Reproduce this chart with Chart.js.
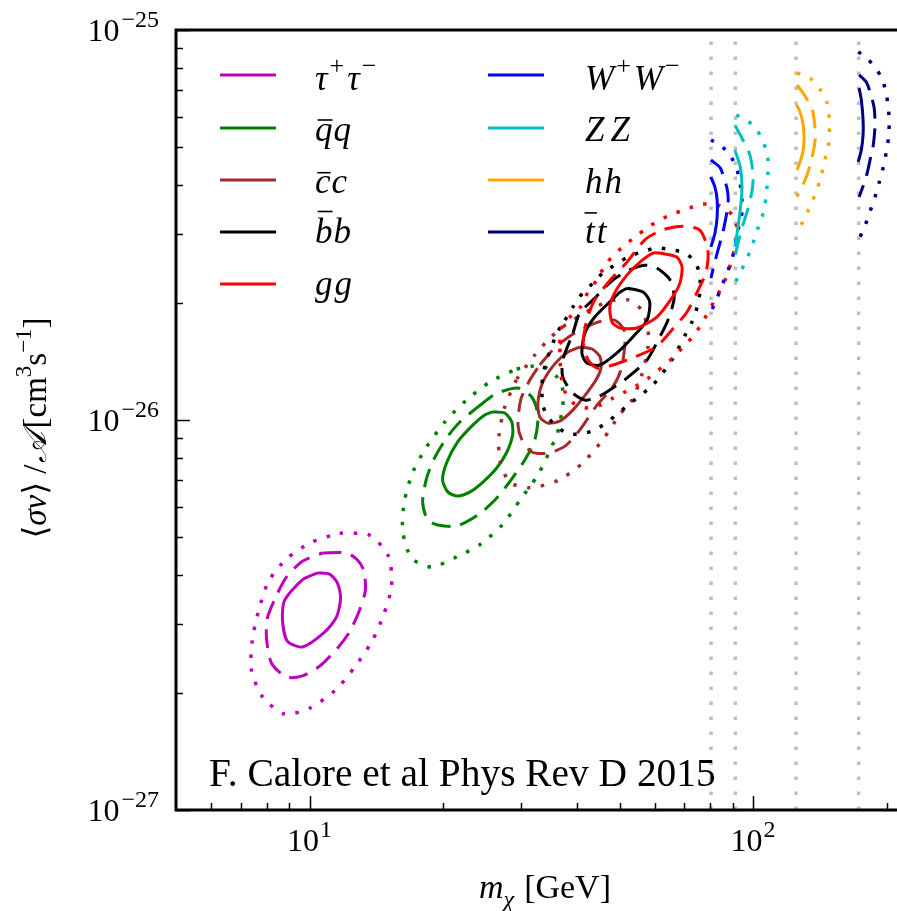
<!DOCTYPE html>
<html>
<head>
<meta charset="utf-8">
<script src="https://cdn.jsdelivr.net/npm/chart.js@4.4.1/dist/chart.umd.min.js"></script>
<style>
  html, body { margin: 0; padding: 0; background: #fff; }
  #chart { display: block; }
</style>
</head>
<body>
<canvas id="chart" width="897" height="911"></canvas>
<script>
// contour vertices: [log10(m_chi / GeV), log10(<sigma v>/A / cm^3 s^-1)]
const tauSolid = [[1.018,-26.392],[1.045,-26.395],[1.063,-26.418],[1.070,-26.456],[1.061,-26.505],[1.034,-26.544],[0.984,-26.582],[0.950,-26.567],[0.939,-26.513],[0.944,-26.462],[0.984,-26.410]];
const tauDashed = [[1.029,-26.341],[1.084,-26.341],[1.108,-26.359],[1.122,-26.385],[1.126,-26.436],[1.113,-26.487],[1.090,-26.544],[1.063,-26.585],[1.023,-26.631],[0.984,-26.656],[0.948,-26.659],[0.914,-26.623],[0.903,-26.559],[0.905,-26.508],[0.926,-26.449],[0.948,-26.403],[0.984,-26.362]];
const tauDotted = [[1.068,-26.290],[1.135,-26.295],[1.178,-26.349],[1.185,-26.426],[1.167,-26.500],[1.140,-26.569],[1.102,-26.633],[1.059,-26.692],[1.002,-26.738],[0.944,-26.754],[0.894,-26.710],[0.869,-26.641],[0.871,-26.564],[0.885,-26.490],[0.907,-26.415],[0.948,-26.356],[1.005,-26.313]];

const qqSolid = [[1.413,-25.979],[1.440,-25.982],[1.456,-26.005],[1.458,-26.038],[1.445,-26.082],[1.422,-26.123],[1.391,-26.159],[1.361,-26.185],[1.334,-26.195],[1.312,-26.185],[1.300,-26.154],[1.309,-26.110],[1.334,-26.056],[1.368,-26.013],[1.395,-25.987]];
const qqDashed = [[1.379,-25.967],[1.420,-25.933],[1.470,-25.918],[1.501,-25.941],[1.515,-25.987],[1.508,-26.051],[1.485,-26.103],[1.451,-26.159],[1.418,-26.205],[1.379,-26.244],[1.332,-26.272],[1.289,-26.269],[1.266,-26.256],[1.255,-26.210],[1.264,-26.149],[1.282,-26.097],[1.309,-26.046],[1.339,-26.005]];
const qqDotted = [[1.467,-25.869],[1.501,-25.862],[1.530,-25.864],[1.558,-25.890],[1.571,-25.923],[1.571,-25.964],[1.558,-26.038],[1.544,-26.072],[1.530,-26.108],[1.512,-26.146],[1.476,-26.203],[1.436,-26.267],[1.386,-26.318],[1.332,-26.351],[1.275,-26.377],[1.230,-26.354],[1.210,-26.285],[1.214,-26.208],[1.233,-26.133],[1.264,-26.069],[1.305,-26.005],[1.352,-25.951],[1.406,-25.903]];

const ccSolid = [[1.609,-25.813],[1.637,-25.818],[1.655,-25.838],[1.657,-25.867],[1.646,-25.897],[1.625,-25.931],[1.594,-25.974],[1.564,-26.003],[1.537,-26.008],[1.519,-25.992],[1.515,-25.954],[1.526,-25.903],[1.553,-25.856],[1.582,-25.826]];
const ccDashed = [[1.519,-25.859],[1.553,-25.815],[1.598,-25.777],[1.650,-25.749],[1.688,-25.744],[1.709,-25.769],[1.711,-25.808],[1.702,-25.872],[1.682,-25.918],[1.648,-25.962],[1.609,-26.026],[1.576,-26.067],[1.537,-26.085],[1.501,-26.082],[1.479,-26.051],[1.470,-26.013],[1.476,-25.949],[1.497,-25.897]];
const ccDotted = [[1.467,-25.895],[1.508,-25.833],[1.542,-25.790],[1.580,-25.754],[1.632,-25.718],[1.677,-25.695],[1.718,-25.692],[1.749,-25.718],[1.763,-25.769],[1.763,-25.813],[1.749,-25.885],[1.727,-25.949],[1.700,-25.985],[1.661,-26.051],[1.616,-26.110],[1.562,-26.154],[1.497,-26.174],[1.451,-26.159],[1.429,-26.103],[1.427,-26.041],[1.440,-25.967]];

const bbSolid = [[1.716,-25.662],[1.752,-25.672],[1.767,-25.697],[1.761,-25.744],[1.729,-25.787],[1.693,-25.828],[1.655,-25.859],[1.625,-25.854],[1.614,-25.828],[1.621,-25.777],[1.643,-25.736],[1.677,-25.697],[1.700,-25.672]];
const bbDashed = [[1.594,-25.777],[1.609,-25.726],[1.639,-25.692],[1.684,-25.641],[1.722,-25.615],[1.756,-25.603],[1.783,-25.610],[1.813,-25.641],[1.822,-25.687],[1.808,-25.744],[1.786,-25.795],[1.761,-25.846],[1.716,-25.892],[1.677,-25.923],[1.650,-25.941],[1.621,-25.949],[1.594,-25.931],[1.571,-25.890],[1.571,-25.846]];
const bbDotted = [[1.576,-25.744],[1.594,-25.710],[1.616,-25.674],[1.639,-25.649],[1.661,-25.623],[1.688,-25.603],[1.718,-25.582],[1.749,-25.569],[1.783,-25.559],[1.817,-25.564],[1.847,-25.572],[1.869,-25.595],[1.880,-25.628],[1.880,-25.672],[1.874,-25.710],[1.862,-25.749],[1.847,-25.782],[1.817,-25.846],[1.774,-25.910],[1.718,-25.962],[1.677,-26.000],[1.643,-26.026],[1.609,-26.036],[1.578,-26.033],[1.540,-25.997],[1.526,-25.962],[1.524,-25.923],[1.526,-25.885],[1.535,-25.846],[1.558,-25.777]];

const ggSolid = [[1.790,-25.572],[1.828,-25.582],[1.840,-25.608],[1.835,-25.649],[1.817,-25.687],[1.783,-25.736],[1.738,-25.764],[1.700,-25.764],[1.682,-25.749],[1.677,-25.710],[1.688,-25.674],[1.716,-25.628],[1.745,-25.595],[1.774,-25.572]];
const ggDashed = [[1.616,-25.800],[1.625,-25.744],[1.643,-25.692],[1.682,-25.636],[1.716,-25.595],[1.756,-25.538],[1.795,-25.513],[1.842,-25.503],[1.880,-25.513],[1.898,-25.564],[1.894,-25.621],[1.874,-25.672],[1.851,-25.723],[1.817,-25.769],[1.781,-25.813],[1.727,-25.841],[1.684,-25.859],[1.648,-25.867],[1.628,-25.846]];
const ggDotted = [[1.564,-25.803],[1.569,-25.762],[1.587,-25.736],[1.609,-25.713],[1.628,-25.672],[1.648,-25.641],[1.670,-25.597],[1.711,-25.551],[1.738,-25.528],[1.763,-25.505],[1.808,-25.477],[1.858,-25.456],[1.887,-25.446],[1.926,-25.451],[1.955,-25.477],[1.964,-25.513],[1.955,-25.577],[1.937,-25.641],[1.914,-25.692],[1.885,-25.751],[1.865,-25.785],[1.842,-25.813],[1.819,-25.841],[1.795,-25.864],[1.767,-25.890],[1.740,-25.910],[1.711,-25.928],[1.684,-25.944],[1.655,-25.962],[1.621,-25.969],[1.594,-25.956],[1.576,-25.928],[1.567,-25.885]];

const wwSolid = [[1.905,-25.377],[1.914,-25.403],[1.919,-25.436],[1.919,-25.479],[1.914,-25.521],[1.905,-25.556]];
const wwDashed = [[1.905,-25.333],[1.926,-25.354],[1.941,-25.405],[1.944,-25.436],[1.941,-25.467],[1.932,-25.518],[1.921,-25.564],[1.912,-25.603],[1.905,-25.636]];
const wwDotted = [[1.905,-25.282],[1.926,-25.295],[1.948,-25.321],[1.964,-25.359],[1.973,-25.410],[1.975,-25.467],[1.966,-25.513],[1.955,-25.577],[1.944,-25.615],[1.932,-25.649],[1.919,-25.687],[1.905,-25.723]];

const zzSolid = [[1.959,-25.308],[1.971,-25.351],[1.975,-25.403],[1.971,-25.462],[1.964,-25.521],[1.959,-25.556]];
const zzDashed = [[1.959,-25.244],[1.977,-25.282],[1.993,-25.321],[2.000,-25.372],[1.998,-25.410],[1.989,-25.456],[1.975,-25.508],[1.964,-25.556],[1.959,-25.585]];
const zzDotted = [[1.962,-25.218],[1.977,-25.226],[2.005,-25.249],[2.020,-25.282],[2.032,-25.315],[2.034,-25.354],[2.032,-25.392],[2.029,-25.431],[2.023,-25.469],[2.011,-25.508],[2.000,-25.546],[1.989,-25.579],[1.975,-25.613],[1.959,-25.649]];

const hhSolid = [[2.097,-25.192],[2.102,-25.200],[2.111,-25.231],[2.115,-25.274],[2.113,-25.308],[2.106,-25.338],[2.099,-25.359]];
const hhDashed = [[2.099,-25.141],[2.113,-25.162],[2.129,-25.192],[2.135,-25.210],[2.140,-25.256],[2.140,-25.282],[2.133,-25.326],[2.124,-25.364],[2.117,-25.385],[2.099,-25.428]];
const hhDotted = [[2.099,-25.110],[2.131,-25.126],[2.153,-25.156],[2.167,-25.187],[2.172,-25.228],[2.172,-25.267],[2.169,-25.303],[2.160,-25.341],[2.153,-25.377],[2.142,-25.415],[2.129,-25.451],[2.115,-25.485],[2.099,-25.521]];

const ttSolid = [[2.239,-25.149],[2.244,-25.179],[2.248,-25.231],[2.248,-25.269],[2.244,-25.308],[2.237,-25.338]];
const ttDashed = [[2.239,-25.115],[2.255,-25.133],[2.266,-25.167],[2.273,-25.200],[2.275,-25.244],[2.271,-25.295],[2.266,-25.321],[2.255,-25.377],[2.239,-25.428]];
const ttDotted = [[2.237,-25.056],[2.251,-25.067],[2.275,-25.095],[2.291,-25.126],[2.300,-25.162],[2.305,-25.200],[2.307,-25.238],[2.305,-25.279],[2.300,-25.315],[2.293,-25.354],[2.284,-25.392],[2.275,-25.428],[2.264,-25.464],[2.253,-25.500],[2.239,-25.536]];

// thresholds m_W, m_Z, m_h, m_t (GeV)
const thresholdMasses = [80.4, 91.2, 125, 173];

const xTicks = [6, 7, 8, 9, 10, 20, 30, 40, 50, 60, 70, 80, 90, 100, 200];
const xMajor = [10, 100];
const xLabels = ['1', '2'];
const yTicks = [1e-27, 2e-27, 3e-27, 4e-27, 5e-27, 6e-27, 7e-27, 8e-27, 9e-27,
                1e-26, 2e-26, 3e-26, 4e-26, 5e-26, 6e-26, 7e-26, 8e-26, 9e-26, 1e-25];
const yMajor = [1e-27, 1e-26, 1e-25];
const yLabels = ['−27', '−26', '−25'];
const citation = 'F. Calore et al Phys Rev D 2015';

const SERIF = '"Liberation Serif", "DejaVu Serif", serif';

const channels = [
  {color: '#BF00BF', levels: [tauSolid, tauDashed, tauDotted], closed: true,
   label: [{t: 'τ', it: 1, gap: 2}, {t: '+', sup: 1, gap: 3}, {t: 'τ', it: 1, gap: 2}, {t: '−', sup: 1}]},
  {color: '#008000', levels: [qqSolid, qqDashed, qqDotted], closed: true,
   label: [{t: 'q', it: 1, bar: 0.6, gap: 1}, {t: 'q', it: 1}]},
  {color: '#A52A2A', levels: [ccSolid, ccDashed, ccDotted], closed: true,
   label: [{t: 'c', it: 1, bar: 0.58, gap: 1}, {t: 'c', it: 1}]},
  {color: '#000000', levels: [bbSolid, bbDashed, bbDotted], closed: true,
   label: [{t: 'b', it: 1, bar: 0.9, gap: 1}, {t: 'b', it: 1}]},
  {color: '#FF0000', levels: [ggSolid, ggDashed, ggDotted], closed: true,
   label: [{t: 'g', it: 1, gap: 2}, {t: 'g', it: 1}]},
  {color: '#0000FF', levels: [wwSolid, wwDashed, wwDotted], closed: false,
   label: [{t: 'W', it: 1, gap: 2}, {t: '+', sup: 1, gap: 3}, {t: 'W', it: 1, gap: 2}, {t: '−', sup: 1}]},
  {color: '#00BFBF', levels: [zzSolid, zzDashed, zzDotted], closed: false,
   label: [{t: 'Z', it: 1, gap: 6}, {t: 'Z', it: 1}]},
  {color: '#FFA500', levels: [hhSolid, hhDashed, hhDotted], closed: false,
   label: [{t: 'h', it: 1, gap: 2}, {t: 'h', it: 1}]},
  {color: '#000080', levels: [ttSolid, ttDashed, ttDotted], closed: false,
   label: [{t: 't', it: 1, bar: 0.86, barW: 1.5, gap: 2}, {t: 't', it: 1}]}
];
const dashes = [[], [19, 10], [3.5, 10.5]];
const widths = [3, 3, 3.5];

function toPoints(arr, closed) {
  const pts = arr.map(([lm, ls]) => ({x: Math.pow(10, lm), y: Math.pow(10, ls)}));
  if (closed) pts.push(pts[0]);
  return pts;
}

let datasets = [];
for (let m of thresholdMasses) {
  datasets.push({
    data: [{x: m, y: 1e-27}, {x: m, y: 1e-25}],
    borderColor: '#BEBEBE', borderWidth: 3.5, borderDash: [3.5, 11.5],
    pointRadius: 0, showLine: true, order: 1000
  });
}
channels.forEach((ch, i) => {
  ch.levels.forEach((lev, j) => {
    datasets.push({
      data: toPoints(lev, ch.closed),
      borderColor: ch.color, borderWidth: widths[j], borderDash: dashes[j],
      borderCapStyle: 'butt', pointRadius: 0, showLine: true, tension: 0.25,
      order: -(i * 3 + j)
    });
  });
});

let supScale = 0.7;
function fontFor(p, size) {
  let s = (p.sup || p.sub) ? Math.round(size * supScale) : size;
  return (p.it ? 'italic ' : '') + s + 'px ' + SERIF;
}
function partWidth(ctx, p, size) {
  ctx.font = fontFor(p, size);
  return ctx.measureText(p.t).width;
}
function richWidth(ctx, parts, size) {
  return parts.reduce((w, p) => w + partWidth(ctx, p, size) + (p.gap || 0), 0);
}
function drawRich(ctx, parts, x, y, size, align) {
  let w = richWidth(ctx, parts, size);
  let cx = align === 'center' ? x - w / 2 : align === 'right' ? x - w : x;
  ctx.textAlign = 'left';
  ctx.textBaseline = 'alphabetic';
  for (let p of parts) {
    let tw = partWidth(ctx, p, size);
    let dy = p.sup ? -size * 0.45 : p.sub ? size * 0.25 : 0;
    ctx.fillText(p.t, cx, y + dy);
    if (p.bar) {
      let by = y - size * p.bar;
      let bw = (p.barW || 1) * tw;
      ctx.lineWidth = 1.6;
      ctx.beginPath();
      ctx.moveTo(cx + tw * 0.55 - bw * 0.4, by);
      ctx.lineTo(cx + tw * 0.55 + bw * 0.45, by);
      ctx.stroke();
    }
    cx += tw + (p.gap || 0);
  }
  return w;
}

const decor = {
  id: 'decor',
  afterDraw(chart) {
    const ctx = chart.ctx;
    const {left, right, top, bottom} = chart.chartArea;
    const xs = chart.scales.x, ys = chart.scales.y;
    ctx.save();
    ctx.fillStyle = '#000';
    ctx.strokeStyle = '#000';

    // ticks (inward)
    ctx.lineWidth = 1.5;
    for (let v of xTicks) {
      let px = Math.round(xs.getPixelForValue(v)) + 0.5;
      let len = xMajor.includes(v) ? 14 : 7;
      ctx.beginPath(); ctx.moveTo(px, bottom); ctx.lineTo(px, bottom - len); ctx.stroke();
    }
    for (let v of yTicks) {
      let py = Math.round(ys.getPixelForValue(v)) + 0.5;
      let len = yMajor.some(m => Math.abs(m / v - 1) < 1e-6) ? 14 : 7;
      ctx.beginPath(); ctx.moveTo(left, py); ctx.lineTo(left + len, py); ctx.stroke();
    }

    // frame: left, bottom, top
    ctx.lineWidth = 3;
    ctx.beginPath();
    ctx.moveTo(right + 5, top); ctx.lineTo(left, top); ctx.lineTo(left, bottom); ctx.lineTo(right + 5, bottom);
    ctx.stroke();

    // tick labels
    supScale = 0.74;
    xMajor.forEach((v, i) => {
      let px = xs.getPixelForValue(v);
      drawRich(ctx, [{t: '10', gap: 1}, {t: xLabels[i], sup: 1}], px, 851, 32, 'center');
    });
    yMajor.forEach((v, i) => {
      let py = ys.getPixelForValue(v);
      drawRich(ctx, [{t: '10', gap: 2}, {t: yLabels[i], sup: 1}], 159, py + 11, 32, 'right');
    });

    // axis titles
    supScale = 0.7;
    drawRich(ctx, [{t: 'm', it: 1}, {t: 'χ', it: 1, sub: 1, gap: 10}, {t: '[GeV]'}], 545, 898, 34, 'center');
    ctx.save();
    ctx.translate(46, 428);
    ctx.rotate(-Math.PI / 2);
    drawRich(ctx, [{t: '⟨'}, {t: 'σv', it: 1}, {t: '⟩ /', gap: 2}, {t: '𝒜', it: 1, gap: 3}, {t: '[cm'}, {t: '3', sup: 1},
                   {t: 's'}, {t: '−1', sup: 1}, {t: ']'}], 0, 0, 33, 'center');
    ctx.restore();

    // legend
    supScale = 0.74;
    const rows = [75, 128, 180, 232, 284];
    const base = [15, 13, 13, 11, 11];
    channels.forEach((ch, i) => {
      let col = i < 5 ? 0 : 1;
      let row = i < 5 ? i : i - 5;
      let x0 = col ? 488 : 220;
      let y = rows[row];
      ctx.strokeStyle = ch.color;
      ctx.lineWidth = 3;
      ctx.beginPath(); ctx.moveTo(x0, y); ctx.lineTo(x0 + 56, y); ctx.stroke();
      ctx.strokeStyle = '#000';
      ctx.fillStyle = '#000';
      drawRich(ctx, ch.label, col ? 585 : 315, y + base[row], 35, 'left');
    });

    // citation
    ctx.font = '100px ' + SERIF;
    let w100 = ctx.measureText(citation).width;
    let fs = 100 * 507 / w100;
    ctx.font = fs.toFixed(1) + 'px ' + SERIF;
    ctx.textAlign = 'left';
    ctx.textBaseline = 'alphabetic';
    ctx.fillText(citation, 209, 786);
    ctx.restore();
  }
};

new Chart(document.getElementById('chart'), {
  type: 'scatter',
  data: {datasets: datasets},
  options: {
    responsive: false,
    animation: false,
    devicePixelRatio: 1,
    layout: {padding: {left: 176, right: 1, top: 30, bottom: 101}},
    plugins: {legend: {display: false}, tooltip: {enabled: false}},
    scales: {
      x: {type: 'logarithmic', min: 5, max: 210, display: false},
      y: {type: 'logarithmic', min: 1e-27, max: 1e-25, display: false}
    }
  },
  plugins: [decor]
});
</script>
</body>
</html>
